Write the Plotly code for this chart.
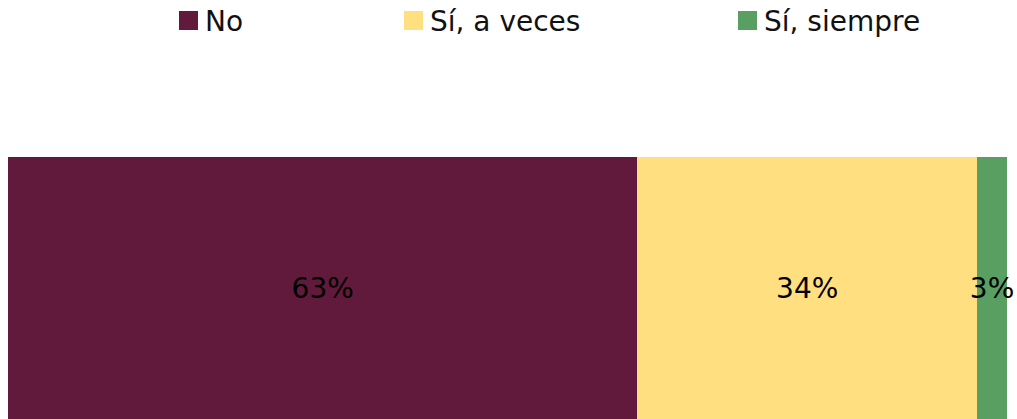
import plotly.graph_objects as go

categories = ["No", "Sí, a veces", "Sí, siempre"]
values = [63, 34, 3]
labels = ["63%", "34%", "3%"]
colors = ["#611a3b", "#ffdf7f", "#589f61"]

W, H = 1017, 419
ML, MR, MT, MB = 8, 10, 157, 0
FONT = "DejaVu Sans, sans-serif"

fig = go.Figure()
for cat, v, lab, col in zip(categories, values, labels, colors):
    fig.add_trace(go.Bar(
        y=[""], x=[v], orientation="h", name=cat,
        marker=dict(color=col, line=dict(width=0)),
        text=[lab], textposition="inside", insidetextanchor="middle",
        textangle=0, constraintext="none", cliponaxis=False,
        textfont=dict(color="black", size=28, family=FONT),
        width=1, showlegend=False, hoverinfo="skip",
    ))

# custom legend (squares + text) in the top margin
pw = W - ML - MR
ph = H - MT - MB
def px_to_paper_x(px):
    return (px - ML) / pw
def px_to_paper_y(py):
    return (H - MB - py) / ph

legend_x = [179, 404, 738]
shapes, annotations = [], []
for cat, col, lx in zip(categories, colors, legend_x):
    shapes.append(dict(type="rect", xref="paper", yref="paper",
                       x0=px_to_paper_x(lx), x1=px_to_paper_x(lx + 19),
                       y0=px_to_paper_y(30), y1=px_to_paper_y(11),
                       fillcolor=col, line=dict(width=0)))
    annotations.append(dict(xref="paper", yref="paper",
                            x=px_to_paper_x(lx + 24), y=px_to_paper_y(21),
                            xanchor="left", yanchor="middle", showarrow=False,
                            text=cat, font=dict(size=28, color="#111111", family=FONT)))

fig.update_layout(
    width=W, height=H, barmode="stack",
    margin=dict(l=ML, r=MR, t=MT, b=MB, pad=0),
    paper_bgcolor="white", plot_bgcolor="white",
    xaxis=dict(range=[0, 100], visible=False, fixedrange=True),
    yaxis=dict(range=[-0.5, 0.5], visible=False, fixedrange=True),
    shapes=shapes, annotations=annotations,
    font=dict(family=FONT),
)
fig.write_html(
    "out.html",
    config={"displayModeBar": False},
    post_script="document.body.style.margin='0';document.body.style.overflow='hidden';",
)
